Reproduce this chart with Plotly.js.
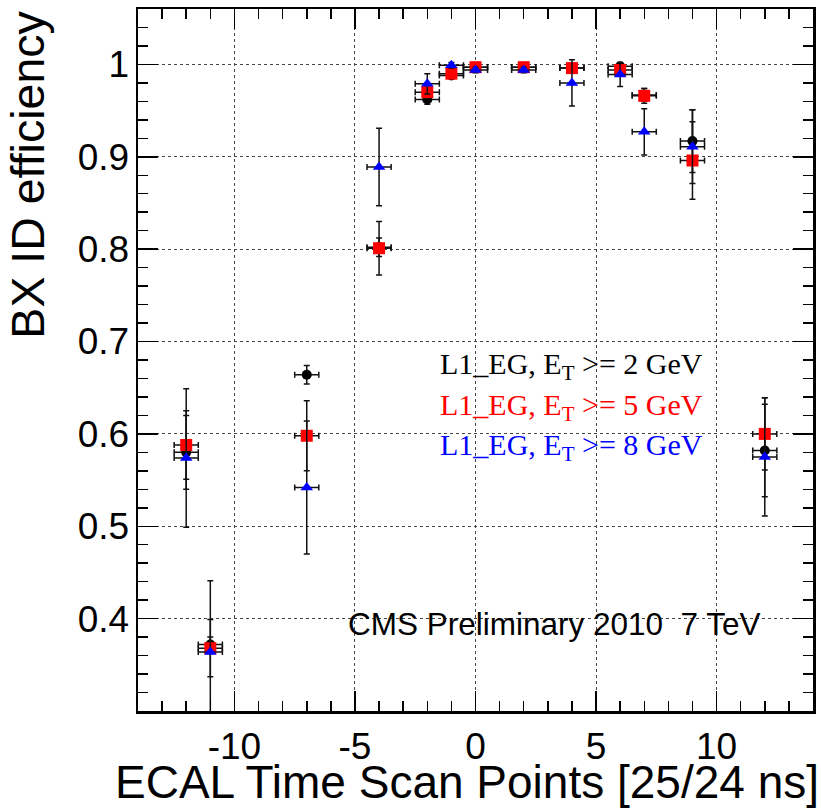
<!DOCTYPE html>
<html>
<head>
<meta charset="utf-8">
<script src="https://cdn.plot.ly/plotly-3.0.1.min.js"></script>
<style>
html,body{margin:0;padding:0;background:#fff;}
#chart{width:821px;height:808px;}
</style>
</head>
<body>
<div id="chart"></div>
<script>
// Scan points (x) and half-width of horizontal bars
const scanPoints = [-12, -11, -7, -4, -2, -1, 0, 2, 4, 6, 7, 9, 12];
const scanHalfWidth = [0.5, 0.5, 0.5, 0.5, 0.5, 0.5, 0.5, 0.5, 0.5, 0.5, 0.5, 0.5, 0.5];

// L1_EG, ET >= 2 GeV
const effEt2 = [0.580, 0.372, 0.664, 0.802, 0.962, 0.988, 0.997, 0.997, 0.996, 0.998, 0.967, 0.917, 0.582];
const errEt2 = [0.040, 0.008, 0.010, 0.010, 0.005, 0.003, 0.002, 0.002, 0.003, 0.003, 0.007, 0.034, 0.050];
// L1_EG, ET >= 5 GeV
const effEt5 = [0.588, 0.368, 0.598, 0.801, 0.970, 0.990, 0.997, 0.997, 0.996, 0.994, 0.966, 0.896, 0.600];
const errEt5 = [0.037, 0.031, 0.038, 0.029, 0.006, 0.004, 0.002, 0.002, 0.003, 0.004, 0.008, 0.042, 0.039];
// L1_EG, ET >= 8 GeV
const effEt8 = [0.574, 0.364, 0.542, 0.889, 0.979, 0.999, 0.994, 0.994, 0.980, 0.989, 0.927, 0.911, 0.575];
const errEt8 = [0.075, 0.077, 0.072, 0.042, 0.011, 0.003, 0.003, 0.003, 0.025, 0.013, 0.025, 0.040, 0.064];

const xTickVals = [-10, -5, 0, 5, 10];
const xTickText = ['-10', '-5', '0', '5', '10'];
const yTickVals = [0.4, 0.5, 0.6, 0.7, 0.8, 0.9, 1.0];
const yTickText = ['0.4', '0.5', '0.6', '0.7', '0.8', '0.9', '1'];

const seriesNames = ['L1_EG, E<sub>T</sub> &gt;= 2 GeV', 'L1_EG, E<sub>T</sub> &gt;= 5 GeV', 'L1_EG, E<sub>T</sub> &gt;= 8 GeV'];
const cmsLabel = 'CMS Preliminary 2010  7 TeV';
const xTitle = 'ECAL Time Scan Points [25/24 ns]';
const yTitle = 'BX ID efficiency';

const colors = ['#000000', '#ff0000', '#0000ff'];
const symbols = ['circle', 'square', 'triangle-up'];
const sizes = [10, 12, 11];
const effs = [effEt2, effEt5, effEt8];
const errs = [errEt2, errEt5, errEt8];

const traces = effs.map((eff, i) => ({
  type: 'scatter',
  mode: 'markers',
  x: scanPoints,
  y: eff,
  name: seriesNames[i],
  marker: {color: colors[i], symbol: symbols[i], size: sizes[i], line: {width: 0}},
  error_y: {type: 'data', array: errs[i], visible: true, color: '#111', thickness: 1.5, width: 3},
  error_x: {type: 'data', array: scanHalfWidth, visible: true, color: '#111', thickness: 1.5, width: 3},
  showlegend: false,
  cliponaxis: true
}));

const axisCommon = {
  showline: true, linecolor: '#000', linewidth: 2.5, mirror: 'allticks',
  ticks: 'inside', ticklen: 20, tickwidth: 1.5, tickcolor: '#000',
  showgrid: true, gridcolor: '#444', griddash: 'dot', gridwidth: 1,
  zeroline: false,
  tickfont: {family: 'Liberation Sans, Arial, sans-serif', size: 37, color: '#000'}
};

const legendAnn = seriesNames.map((t, i) => ({
  xref: 'paper', yref: 'paper', x: 0.445, y: [0.492, 0.433, 0.376][i],
  xanchor: 'left', yanchor: 'middle', showarrow: false,
  text: t, font: {family: 'Liberation Serif, Times New Roman, serif', size: 30, color: colors[i]}
}));

const layout = {
  width: 821, height: 808,
  margin: {l: 138, r: 8, t: 9, b: 97},
  paper_bgcolor: '#fff', plot_bgcolor: '#fff',
  xaxis: Object.assign({}, axisCommon, {
    range: [-14, 14], tickmode: 'array', tickvals: xTickVals, ticktext: xTickText,
    ticklabelstandoff: 1,
    minor: {dtick: 1, tick0: 0, ticklen: 10, tickwidth: 1.5, tickcolor: '#000', ticks: 'inside', showgrid: false}
  }),
  yaxis: Object.assign({}, axisCommon, {
    range: [0.3, 1.06], tickmode: 'array', tickvals: yTickVals, ticktext: yTickText,
    ticklabelstandoff: -1,
    minor: {dtick: 0.02, tick0: 0, ticklen: 10, tickwidth: 1.5, tickcolor: '#000', ticks: 'inside', showgrid: false}
  }),
  annotations: legendAnn.concat([
    {xref: 'paper', yref: 'paper', x: (346 - 138) / 675, y: (711 - 624) / 702, xanchor: 'left', yanchor: 'middle',
     showarrow: false, text: cmsLabel, font: {family: 'Liberation Sans, Arial, sans-serif', size: 31.5, color: '#000'}},
    {xref: 'paper', yref: 'paper', x: 1.012, y: -0.061, xanchor: 'right', yanchor: 'top',
     showarrow: false, text: xTitle, font: {family: 'Liberation Sans, Arial, sans-serif', size: 46, color: '#000'}},
    {xref: 'paper', yref: 'paper', x: -0.205, y: 1.0, xanchor: 'left', yanchor: 'top', textangle: -90,
     showarrow: false, text: yTitle, font: {family: 'Liberation Sans, Arial, sans-serif', size: 46.5, color: '#000'}}
  ])
};

Plotly.newPlot('chart', traces, layout, {staticPlot: true, displayModeBar: false});
</script>
</body>
</html>
